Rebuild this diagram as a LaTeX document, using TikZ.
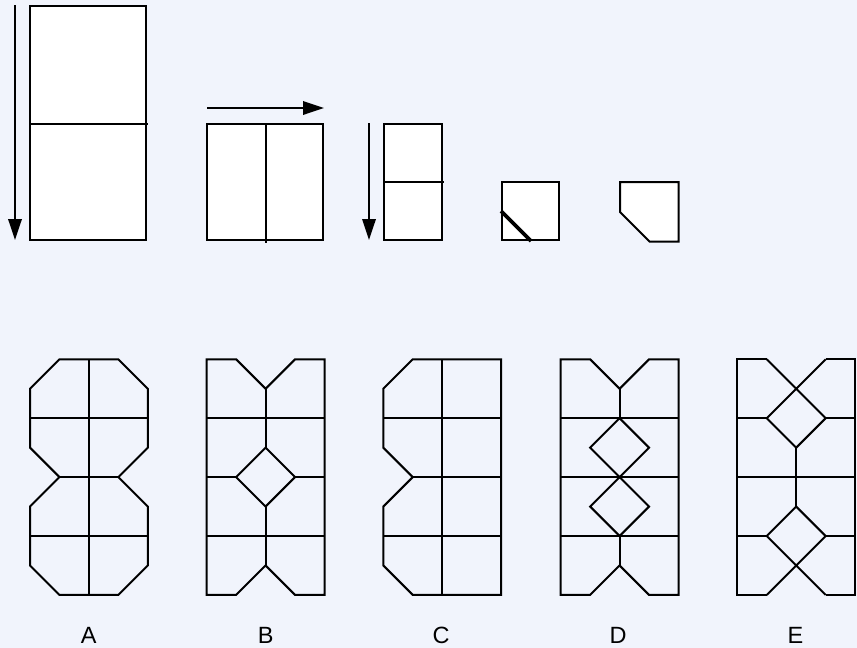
\documentclass[tikz,border=0pt]{standalone}
\usepackage{fontspec}
\setmainfont{Liberation Sans}
\usetikzlibrary{arrows.meta}
\definecolor{bgcol}{RGB}{241,244,252}
\tikzset{
  ln/.style={line width=2pt, line join=miter, black},
  wbox/.style={ln, fill=white},
  arr/.style={line width=1.8pt, -{Triangle[length=21pt,width=13.5pt]}},
  lbl/.style={font=\fontsize{23.5}{26}\selectfont, inner sep=0pt, anchor=center},
  fig/.style={x=58.9pt, y=-58.9pt, line width=2pt}
}
\begin{document}
\begin{tikzpicture}[x=1pt,y=-1pt]
\fill[bgcol] (0,0) rectangle (857,648);
\useasboundingbox (0,0) rectangle (857,648);

% ---- top row ----
\coordinate (a1s) at (15,5);
\coordinate (a1e) at (15,240);
\draw[arr] (a1s) -- (a1e);
\draw[wbox] (30,6) rectangle (146,240);
\draw[ln] (30,123.5) -- (148,123.5);

\coordinate (a2s) at (207,108);
\coordinate (a2e) at (324,108);
\draw[arr] (a2s) -- (a2e);
\draw[wbox] (207,124) rectangle (323,240);
\draw[ln] (265.5,124) -- (265.5,242.5);

\coordinate (a3s) at (369,123);
\coordinate (a3e) at (369,240);
\draw[arr] (a3s) -- (a3e);
\draw[wbox] (383.5,123.5) rectangle (441.5,240);
\draw[ln] (383.5,182) -- (443.5,182);

\draw[wbox] (502,182) rectangle (559,240);
\draw[line width=3.8pt] (501,211) -- (531,241);

\draw[wbox] (620,182) -- (678.5,182) -- (678.5,241.5) -- (649.5,241.5) -- (620,212) -- cycle;

% ---- bottom row ----
% A
\begin{scope}[shift={(30,359.3)}, fig]
\draw (0.5,0) -- (1.5,0) -- (2,0.5) -- (2,1.5) -- (1.5,2) -- (2,2.5) -- (2,3.5) -- (1.5,4)
  -- (0.5,4) -- (0,3.5) -- (0,2.5) -- (0.5,2) -- (0,1.5) -- (0,0.5) -- cycle;
\draw (1,0) -- (1,4);
\draw (0,1) -- (2,1);
\draw (0.5,2) -- (1.5,2);
\draw (0,3) -- (2,3);
\end{scope}

% B
\begin{scope}[shift={(206.7,359.3)}, fig]
\draw (0,0) -- (0.5,0) -- (1,0.5) -- (1.5,0) -- (2,0) -- (2,4) -- (1.5,4) -- (1,3.5) -- (0.5,4) -- (0,4) -- cycle;
\draw (1,0.5) -- (1,1.5);
\draw (1,1.5) -- (1.5,2) -- (1,2.5) -- (0.5,2) -- cycle;
\draw (1,2.5) -- (1,3.5);
\draw (0,1) -- (2,1);
\draw (0,2) -- (0.5,2);
\draw (1.5,2) -- (2,2);
\draw (0,3) -- (2,3);
\end{scope}

% C
\begin{scope}[shift={(383.3,359.3)}, fig]
\draw (0.5,0) -- (2,0) -- (2,4) -- (0.5,4) -- (0,3.5) -- (0,2.5) -- (0.5,2) -- (0,1.5) -- (0,0.5) -- cycle;
\draw (1,0) -- (1,4);
\draw (0,1) -- (2,1);
\draw (0.5,2) -- (2,2);
\draw (0,3) -- (2,3);
\end{scope}

% D
\begin{scope}[shift={(560.7,359.3)}, fig]
\draw (0,0) -- (0.5,0) -- (1,0.5) -- (1.5,0) -- (2,0) -- (2,4) -- (1.5,4) -- (1,3.5) -- (0.5,4) -- (0,4) -- cycle;
\draw (1,0.5) -- (1,1);
\draw (0,1) -- (2,1);
\draw (1,1) -- (1.5,1.5) -- (1,2) -- (0.5,1.5) -- cycle;
\draw (0,2) -- (2,2);
\draw (1,2) -- (1.5,2.5) -- (1,3) -- (0.5,2.5) -- cycle;
\draw (0,3) -- (2,3);
\draw (1,3) -- (1,3.5);
\end{scope}

% E
\begin{scope}[shift={(737.3,359.3)}, fig]
\draw (0.5,0) -- (0,0) -- (0,4) -- (0.5,4);
\draw (1.5,0) -- (2,0) -- (2,4) -- (1.5,4);
\draw (0.5,0) -- (1.5,1) -- (1,1.5) -- (0.5,1) -- (1.5,0);
\draw (0,1) -- (0.5,1);
\draw (1.5,1) -- (2,1);
\draw (1,1.5) -- (1,2.5);
\draw (0,2) -- (2,2);
\draw (0.5,4) -- (1.5,3) -- (1,2.5) -- (0.5,3) -- (1.5,4);
\draw (0,3) -- (0.5,3);
\draw (1.5,3) -- (2,3);
\end{scope}

% labels
\node[lbl] (lA) at (88.7,635.5) {A};
\node[lbl] (lB) at (265.7,635.5) {B};
\node[lbl] (lC) at (441,635.5) {C};
\node[lbl] (lD) at (618,635.5) {D};
\node[lbl] (lE) at (795.5,635.5) {E};
\end{tikzpicture}
\end{document}
